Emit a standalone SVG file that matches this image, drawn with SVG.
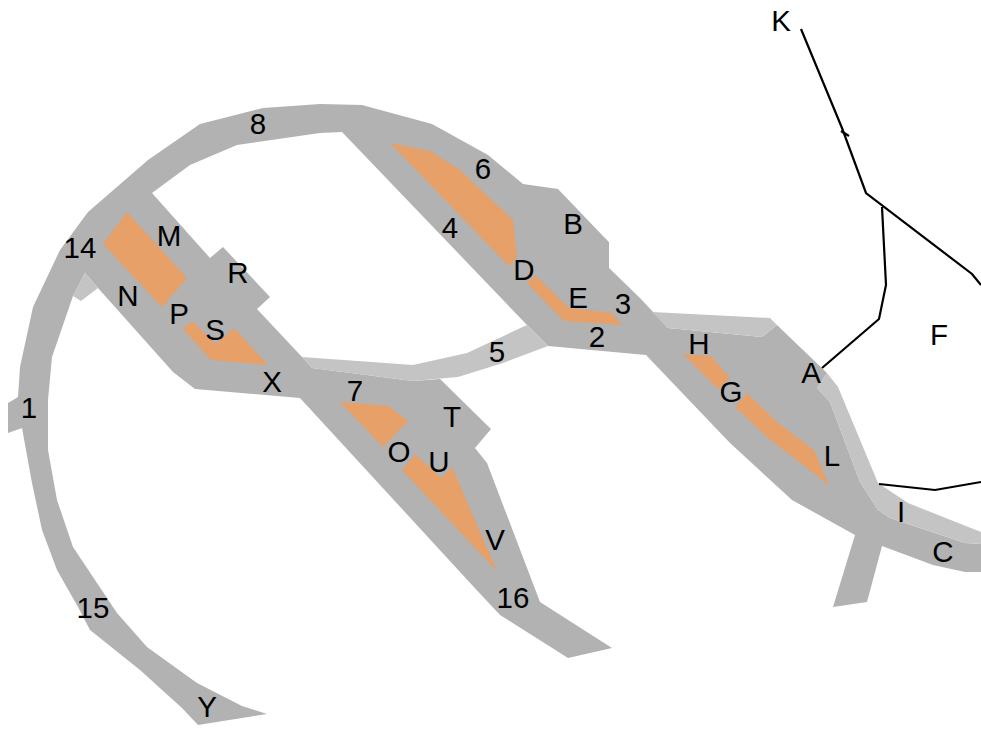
<svg xmlns="http://www.w3.org/2000/svg" width="981" height="729" viewBox="0 0 981 729">
<style>
.g{fill:#b2b2b2}
.l{fill:#c4c4c4}
.o{fill:#e6a068}
.w{fill:none;stroke:#000;stroke-width:2.2;stroke-linejoin:miter}
text{font-family:"Liberation Sans",Arial,sans-serif;font-size:29.5px;fill:#000;text-anchor:middle}
</style>
<rect width="981" height="729" fill="#fff"/>
<g id="body">
<polygon class="g" points="8,403 18,397 20,367 33,307 60,250 88,212 148,160 200,124 263,108 320,104 362,105 432,124 488,155 523,184 558,189 603,236 609,242 609,268 640,298 668,328 762,337 777,325 827,373 817,388 830,402 860,482 878,510 890,518 965,543 981,544 981,572 965,572 933,565 882,546 867,602 833,607 855,535 792,500 730,443 646,355 548,346 527,325 342,132 320,133 237,145 190,165 152,193 210,258 223,247 270,297 257,309 302,357 312,368 413,381 440,379 491,429 475,448 487,463 540,602 612,648 568,658 500,615 472,585 300,398 195,389 173,372 98,288 85,273 73,296 52,357 48,400 48,450 57,500 73,547 117,613 147,647 197,683 242,706 267,714 198,725 182,708 140,670 90,630 78,607 57,570 42,530 32,483 22,428 8,433"/>
<polygon class="l" points="302,357 413,365 467,353 527,325 548,346 503,363 458,377 413,381 312,368"/>
<polygon class="l" points="652,312 770,318 777,325 762,337 668,328"/>
<polygon class="l" points="827,373 838,387 878,483 908,503 981,532 981,544 965,543 890,518 878,510 860,482 830,402 817,388"/>
<polygon class="l" points="85,273 98,288 81,301 73,296"/>
<polygon class="o" points="127,212 187,278 162,307 103,244"/>
<polygon class="o" points="192,321 216,344 234,328 268,365 211,360 183,329"/>
<polygon class="o" points="390,143 430,151 460,170 513,220 517,257 509,266"/>
<polygon class="o" points="535,275 569,308 612,313 622,325 564,321 527,283"/>
<polygon class="o" points="683,354 711,356 730,378 718,389"/>
<polygon class="o" points="747,393 777,422 814,450 829,485 768,438 735,407"/>
<polygon class="o" points="340,402 388,406 408,421 383,447"/>
<polygon class="o" points="415,454 441,478 452,467 497,571 402,470"/>
</g>
<g id="connectors">
<polyline class="w" points="801,29 842,128 866,193 972,274 981,285"/>
<polyline class="w" points="841,131 849,136"/>
<polyline class="w" points="882,207 886,285 879,319 822,368"/>
<polyline class="w" points="879,484 935,490 981,482"/>
</g>
<g id="labels">
<text x="258" y="134">8</text>
<text x="80" y="258">14</text>
<text x="169" y="246">M</text>
<text x="238" y="283">R</text>
<text x="128" y="306">N</text>
<text x="179" y="324">P</text>
<text x="215" y="340">S</text>
<text x="272" y="392">X</text>
<text x="29" y="418">1</text>
<text x="483" y="179">6</text>
<text x="573" y="234">B</text>
<text x="450" y="238">4</text>
<text x="524" y="280">D</text>
<text x="578" y="308">E</text>
<text x="623" y="314">3</text>
<text x="597" y="347">2</text>
<text x="497" y="362">5</text>
<text x="699" y="354">H</text>
<text x="731" y="402">G</text>
<text x="811" y="383">A</text>
<text x="832" y="466">L</text>
<text x="939" y="345">F</text>
<text x="901" y="522">I</text>
<text x="943" y="562">C</text>
<text x="355" y="401">7</text>
<text x="452" y="427">T</text>
<text x="399" y="462">O</text>
<text x="439" y="472">U</text>
<text x="495" y="550">V</text>
<text x="513" y="608">16</text>
<text x="93" y="618">15</text>
<text x="207" y="717">Y</text>
<text x="781" y="31">K</text>
</g>
</svg>
